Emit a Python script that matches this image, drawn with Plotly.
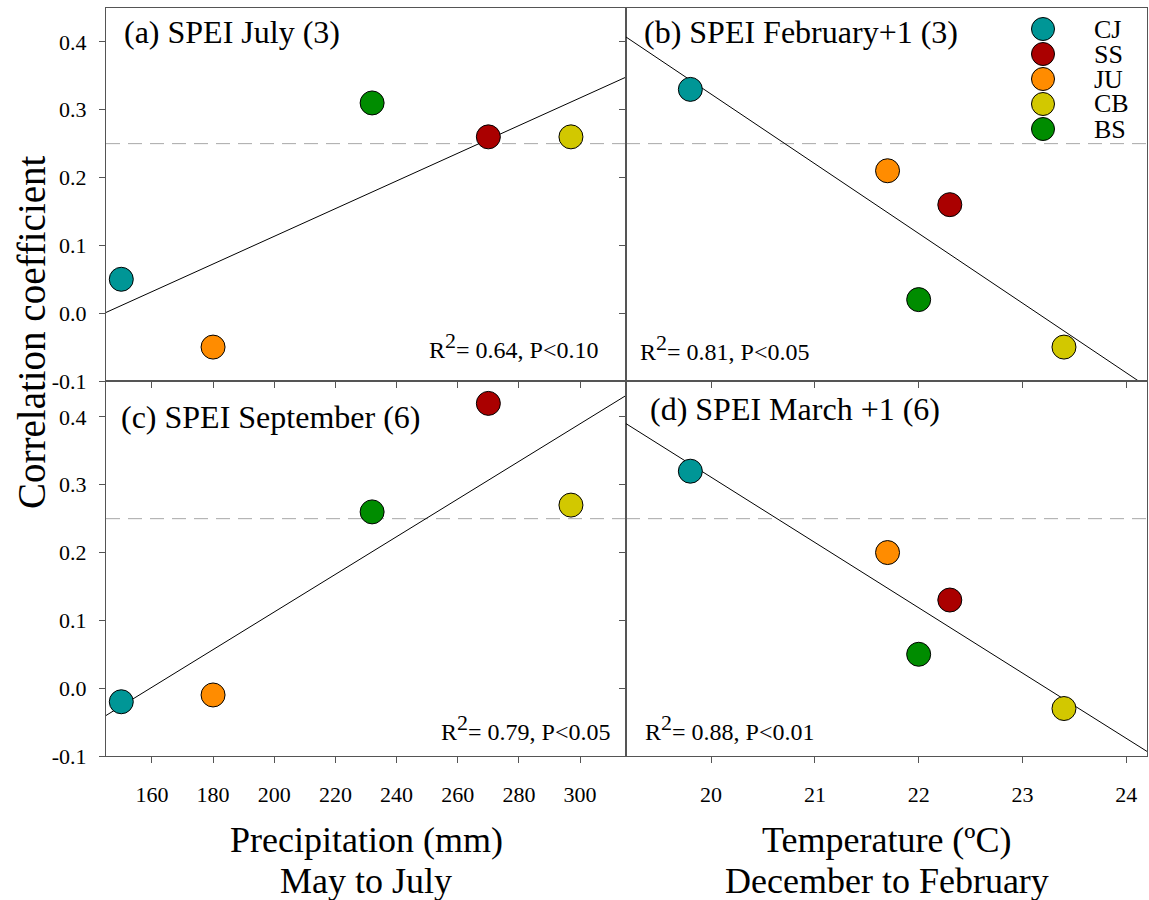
import numpy as np
import plotly.graph_objects as go

# ---------------- data ----------------
sites = ["CJ", "SS", "JU", "CB", "BS"]
site_colors = ["#009696", "#AA0000", "#FF8C00", "#D2C800", "#008C00"]

precip_may_jul = [150, 270, 180, 297, 232]      # mm
temp_dec_feb = [19.8, 22.3, 21.7, 23.4, 22.0]   # deg C

spei_july_3 = [0.05, 0.26, -0.05, 0.26, 0.31]
spei_feb1_3 = [0.33, 0.16, 0.21, -0.05, 0.02]
spei_sep_6 = [-0.02, 0.42, -0.01, 0.27, 0.26]
spei_mar1_6 = [0.32, 0.13, 0.20, -0.03, 0.05]

panel_titles = ["(a) SPEI July (3)", "(b) SPEI February+1 (3)",
                "(c) SPEI September (6)", "(d) SPEI March +1 (6)"]
sup2 = "<sup><span style='font-size:22px'>2</span></sup>"
r2_labels = ["R" + sup2 + "= 0.64, P&lt;0.10", "R" + sup2 + "= 0.81, P&lt;0.05",
             "R" + sup2 + "= 0.79, P&lt;0.05", "R" + sup2 + "= 0.88, P&lt;0.01"]

precip_range = [145, 315]
temp_range = [19.18, 24.2]
y_range_top = [-0.1, 0.45]
y_range_bot = [-0.1, 0.453]
threshold = 0.25

precip_ticks = [160, 180, 200, 220, 240, 260, 280, 300]
precip_ticklabels = ["160", "180", "200", "220", "240", "260", "280", "300"]
temp_ticks = [20, 21, 22, 23, 24]
temp_ticklabels = ["20", "21", "22", "23", "24"]
y_ticks = [-0.1, 0.0, 0.1, 0.2, 0.3, 0.4]
y_ticklabels = ["-0.1", "0.0", "0.1", "0.2", "0.3", "0.4"]

# ---------------- figure ----------------
FONT = "Liberation Serif"
W, H = 1149, 900
L, R, T, B = 106, 2, 8, 144
pw, ph = W - L - R, H - T - B


def px_x(px):
    return (px - L) / pw


def px_y(py):
    return (H - B - py) / ph


xsplit = px_x(626)
ysplit = px_y(381)

fig = go.Figure()

panels = [
    (precip_may_jul, spei_july_3, "x", "y", precip_range),
    (temp_dec_feb, spei_feb1_3, "x2", "y2", temp_range),
    (precip_may_jul, spei_sep_6, "x3", "y3", precip_range),
    (temp_dec_feb, spei_mar1_6, "x4", "y4", temp_range),
]

for xs, ys, xa, ya, xr in panels:
    slope, inter = np.polyfit(xs, ys, 1)
    lx = np.array(xr, dtype=float)
    fig.add_trace(go.Scatter(x=lx, y=slope * lx + inter, mode="lines",
                             line=dict(color="black", width=1),
                             xaxis=xa, yaxis=ya, showlegend=False, hoverinfo="skip"))
    fig.add_trace(go.Scatter(x=xs, y=ys, mode="markers", xaxis=xa, yaxis=ya,
                             marker=dict(size=24, color=site_colors,
                                         line=dict(color="black", width=1)),
                             text=sites, showlegend=False, cliponaxis=False))
    fig.add_shape(type="line", xref=f"{xa} domain", yref=ya, x0=0, x1=1,
                  y0=threshold, y1=threshold, layer="below",
                  line=dict(color="#A8A8A8", width=1, dash="14px,8px"))


def axis(**kw):
    base = dict(showline=True, linecolor="#555555", linewidth=1, mirror=True,
                ticks="outside", ticklen=6, tickcolor="#555555", showgrid=False,
                zeroline=False,
                tickfont=dict(family=FONT, size=22, color="black"))
    base.update(kw)
    return base


fig.update_layout(
    width=W, height=H, margin=dict(l=L, r=R, t=T, b=B),
    font=dict(family=FONT, size=22, color="black"),
    paper_bgcolor="white", plot_bgcolor="white", showlegend=False,
    xaxis=axis(domain=[0, xsplit], range=precip_range, tickvals=precip_ticks,
               anchor="y", showticklabels=False),
    xaxis2=axis(domain=[xsplit, 1], range=temp_range, tickvals=temp_ticks,
                anchor="y2", showticklabels=False),
    xaxis3=axis(domain=[0, xsplit], range=precip_range, tickvals=precip_ticks,
                ticktext=precip_ticklabels, anchor="y3", ticklabelstandoff=13),
    xaxis4=axis(domain=[xsplit, 1], range=temp_range, tickvals=temp_ticks,
                ticktext=temp_ticklabels, anchor="y4", ticklabelstandoff=13),
    yaxis=axis(domain=[ysplit, 1], range=y_range_top, tickvals=y_ticks,
               ticktext=y_ticklabels, anchor="x", ticklabelstandoff=8),
    yaxis2=axis(domain=[ysplit, 1], range=y_range_top, tickvals=y_ticks,
                anchor="x2", showticklabels=False),
    yaxis3=axis(domain=[0, ysplit], range=y_range_bot, tickvals=y_ticks,
                ticktext=y_ticklabels, anchor="x3", ticklabelstandoff=8),
    yaxis4=axis(domain=[0, ysplit], range=y_range_bot, tickvals=y_ticks,
                anchor="x4", showticklabels=False),
)

ann = []
title_pos = [(122, 32), (642, 32), (119, 417), (648, 409)]
for t, (px, py) in zip(panel_titles, title_pos):
    ann.append(dict(text=t, x=px_x(px), y=px_y(py), xref="paper", yref="paper",
                    xanchor="left", yanchor="middle", showarrow=False,
                    font=dict(family=FONT, size=32, color="black")))
r2_pos = [(600, 345, "right"), (638, 347, "left"), (612, 727, "right"), (643, 727, "left")]
for t, (px, py, xa) in zip(r2_labels, r2_pos):
    ann.append(dict(text=t, x=px_x(px), y=px_y(py), xref="paper", yref="paper",
                    xanchor=xa, yanchor="middle", showarrow=False,
                    font=dict(family=FONT, size=24, color="black")))
ann.append(dict(text="Correlation coefficient", x=px_x(32), y=px_y(332), xref="paper",
                yref="paper", textangle=-90, showarrow=False, xanchor="center",
                yanchor="middle", font=dict(family=FONT, size=39, color="black")))
xt = [("Precipitation (mm)", "May to July", 366),
      ("Temperature (\u00baC)", "December to February", 886.5)]
for l1, l2, cx in xt:
    ann.append(dict(text=l1, x=px_x(cx), y=px_y(840), xref="paper", yref="paper",
                    showarrow=False, xanchor="center", yanchor="middle",
                    font=dict(family=FONT, size=36, color="black")))
    ann.append(dict(text=l2, x=px_x(cx), y=px_y(881), xref="paper", yref="paper",
                    showarrow=False, xanchor="center", yanchor="middle",
                    font=dict(family=FONT, size=36, color="black")))
leg_rows = [29, 54, 79, 104, 129]
for name, col, py in zip(sites, site_colors, leg_rows):
    fig.add_shape(type="circle", xref="paper", yref="paper", xsizemode="pixel",
                  ysizemode="pixel", xanchor=px_x(1043), yanchor=px_y(py),
                  x0=-11.5, x1=11.5, y0=-11.5, y1=11.5, fillcolor=col,
                  line=dict(color="black", width=1))
    ann.append(dict(text=name, x=px_x(1092), y=px_y(py), xref="paper", yref="paper",
                    xanchor="left", yanchor="middle", showarrow=False,
                    font=dict(family=FONT, size=26, color="black")))

fig.update_layout(annotations=ann)
fig.write_html("out.html")
